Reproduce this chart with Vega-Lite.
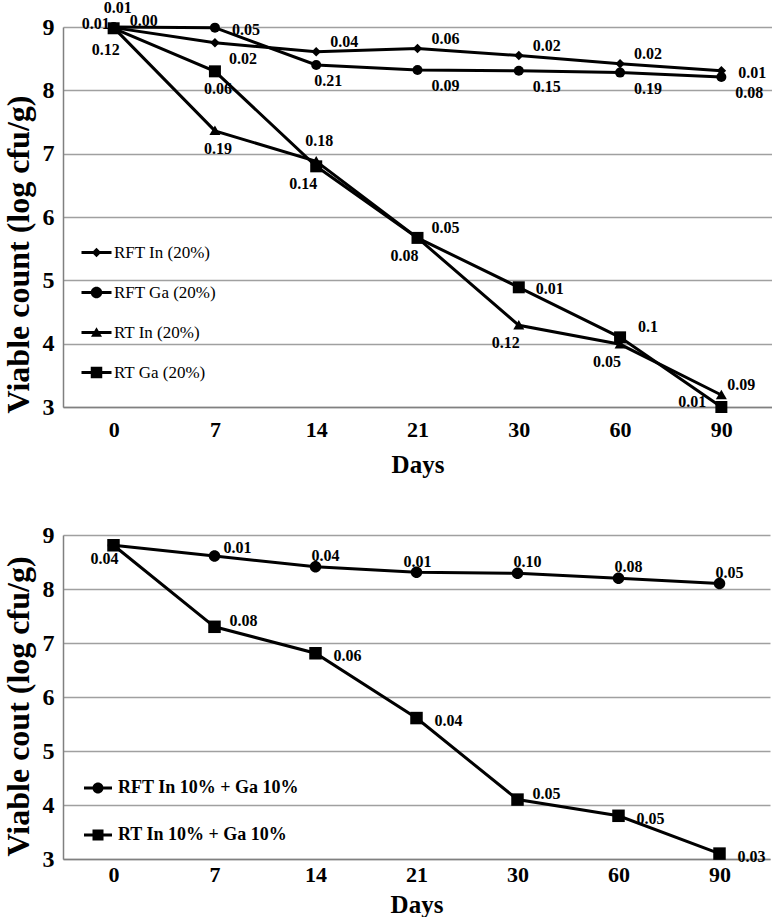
{
  "$schema": "https://vega.github.io/schema/vega-lite/v6.json",
  "padding": {"left": 2, "top": 0, "right": 0, "bottom": 0},
  "background": "white",
  "datasets": {
    "top": [
      {"series": "RFT In (20%)", "day": 0, "v": 8.99, "sd": "0.00"},
      {"series": "RFT In (20%)", "day": 7, "v": 8.75, "sd": "0.02"},
      {"series": "RFT In (20%)", "day": 14, "v": 8.61, "sd": "0.04"},
      {"series": "RFT In (20%)", "day": 21, "v": 8.66, "sd": "0.06"},
      {"series": "RFT In (20%)", "day": 30, "v": 8.55, "sd": "0.02"},
      {"series": "RFT In (20%)", "day": 60, "v": 8.42, "sd": "0.02"},
      {"series": "RFT In (20%)", "day": 90, "v": 8.31, "sd": "0.01"},
      {"series": "RFT Ga (20%)", "day": 0, "v": 9.0, "sd": "0.01"},
      {"series": "RFT Ga (20%)", "day": 7, "v": 8.99, "sd": "0.05"},
      {"series": "RFT Ga (20%)", "day": 14, "v": 8.4, "sd": "0.21"},
      {"series": "RFT Ga (20%)", "day": 21, "v": 8.32, "sd": "0.09"},
      {"series": "RFT Ga (20%)", "day": 30, "v": 8.31, "sd": "0.15"},
      {"series": "RFT Ga (20%)", "day": 60, "v": 8.28, "sd": "0.19"},
      {"series": "RFT Ga (20%)", "day": 90, "v": 8.21, "sd": "0.08"},
      {"series": "RT In (20%)", "day": 0, "v": 8.99, "sd": "0.12"},
      {"series": "RT In (20%)", "day": 7, "v": 7.36, "sd": "0.19"},
      {"series": "RT In (20%)", "day": 14, "v": 6.88, "sd": "0.18"},
      {"series": "RT In (20%)", "day": 21, "v": 5.67, "sd": "0.08"},
      {"series": "RT In (20%)", "day": 30, "v": 4.29, "sd": "0.12"},
      {"series": "RT In (20%)", "day": 60, "v": 3.99, "sd": "0.05"},
      {"series": "RT In (20%)", "day": 90, "v": 3.19, "sd": "0.09"},
      {"series": "RT Ga (20%)", "day": 0, "v": 8.98, "sd": "0.01"},
      {"series": "RT Ga (20%)", "day": 7, "v": 8.3, "sd": "0.06"},
      {"series": "RT Ga (20%)", "day": 14, "v": 6.8, "sd": "0.14"},
      {"series": "RT Ga (20%)", "day": 21, "v": 5.67, "sd": "0.05"},
      {"series": "RT Ga (20%)", "day": 30, "v": 4.89, "sd": "0.01"},
      {"series": "RT Ga (20%)", "day": 60, "v": 4.1, "sd": "0.1"},
      {"series": "RT Ga (20%)", "day": 90, "v": 3.0, "sd": "0.01"}
    ],
    "bottom": [
      {"series": "RFT In 10% + Ga 10%", "day": 0, "v": 8.81, "sd": ""},
      {"series": "RFT In 10% + Ga 10%", "day": 7, "v": 8.61, "sd": "0.01"},
      {"series": "RFT In 10% + Ga 10%", "day": 14, "v": 8.41, "sd": "0.04"},
      {"series": "RFT In 10% + Ga 10%", "day": 21, "v": 8.31, "sd": "0.01"},
      {"series": "RFT In 10% + Ga 10%", "day": 30, "v": 8.29, "sd": "0.10"},
      {"series": "RFT In 10% + Ga 10%", "day": 60, "v": 8.2, "sd": "0.08"},
      {"series": "RFT In 10% + Ga 10%", "day": 90, "v": 8.1, "sd": "0.05"},
      {"series": "RT In 10% + Ga 10%", "day": 0, "v": 8.81, "sd": "0.04"},
      {"series": "RT In 10% + Ga 10%", "day": 7, "v": 7.3, "sd": "0.08"},
      {"series": "RT In 10% + Ga 10%", "day": 14, "v": 6.81, "sd": "0.06"},
      {"series": "RT In 10% + Ga 10%", "day": 21, "v": 5.61, "sd": "0.04"},
      {"series": "RT In 10% + Ga 10%", "day": 30, "v": 4.1, "sd": "0.05"},
      {"series": "RT In 10% + Ga 10%", "day": 60, "v": 3.8, "sd": "0.05"},
      {"series": "RT In 10% + Ga 10%", "day": 90, "v": 3.1, "sd": "0.03"}
    ]
  },
  "spacing": 128,
  "bounds": "flush",
  "resolve": {"scale": {"shape": "independent", "x": "independent", "y": "independent"}, "legend": {"shape": "independent"}},
  "vconcat": [
    {
      "width": 709,
      "height": 380,
      "data": {"name": "top"},
      "resolve": {"scale": {"shape": "independent"}, "legend": {"shape": "independent"}},
      "encoding": {
        "x": {"field": "day", "type": "ordinal", "sort": [0, 7, 14, 21, 30, 60, 90],
              "scale": {"type": "point", "padding": 0.5},
              "axis": {"title": "Days", "labelAngle": 0, "labelPadding": 12, "titleY": 65, "titleBaseline": "alphabetic"}},
        "y": {"field": "v", "type": "quantitative",
              "scale": {"domain": [3, 9], "nice": false, "zero": false},
              "axis": {"title": "Viable count (log cfu/g)", "values": [3, 4, 5, 6, 7, 8, 9], "titleX": -35, "titleY": 227, "titleAngle": -90, "titleBaseline": "alphabetic", "titleAlign": "center"}}
      },
      "layer": [
        {"mark": {"type": "line", "color": "black", "strokeWidth": 3}, "encoding": {"detail": {"field": "series"}}},
        {"mark": {"type": "point", "filled": true, "color": "black", "opacity": 0, "size": 100},
         "encoding": {
           "shape": {"field": "series", "type": "nominal",
                     "scale": {"domain": ["RFT In (20%)", "RFT Ga (20%)", "RT In (20%)", "RT Ga (20%)"],
                               "range": ["M-3,-0.28H3V0.28H-3ZM0,-0.95L0.95,0L0,0.95L-0.95,0Z", "M-3,-0.28H3V0.28H-3ZM-1.15,0A1.15,1.15,0,1,1,1.15,0A1.15,1.15,0,1,1,-1.15,0Z", "M-3,-0.28H3V0.28H-3ZM0,-1.05L1.1,0.85L-1.1,0.85Z", "M-3,-0.28H3V0.28H-3ZM-1.15,-1.15H1.15V1.15H-1.15Z"]},
                     "legend": {"title": null, "orient": "none", "legendX": 25, "legendY": 217, "direction": "vertical",
                                "labelFont": "Liberation Serif", "labelFontSize": 17, "labelFontWeight": "normal", "labelColor": "black",
                                "symbolSize": 100, "rowPadding": 22, "labelOffset": 9, "padding": 0, "labelLimit": 300,
                                "symbolFillColor": "black", "symbolStrokeColor": "black", "symbolStrokeWidth": 0, "symbolOpacity": 1}}
         }},
        {"mark": {"type": "point", "filled": true, "color": "black", "opacity": 1, "size": 100},
         "encoding": {
           "shape": {"field": "series", "type": "nominal",
                     "scale": {"domain": ["RFT In (20%)", "RFT Ga (20%)", "RT In (20%)", "RT Ga (20%)"],
                               "range": ["M0,-0.95L0.95,0L0,0.95L-0.95,0Z", "circle", "M0,-1.05L1.1,0.85L-1.1,0.85Z", "M-1.2,-1.2H1.2V1.2H-1.2Z"]},
                     "legend": null}
         }},
        {"transform": [{"filter": "indexof(['RFT In (20%)|0'], datum.series + '|' + datum.day) >= 0"}], "mark": {"type": "text", "dx": 30, "dy": -7}, "encoding": {"text": {"field": "sd"}}},
        {"transform": [{"filter": "indexof(['RFT Ga (20%)|0'], datum.series + '|' + datum.day) >= 0"}], "mark": {"type": "text", "dx": 4, "dy": -19}, "encoding": {"text": {"field": "sd"}}},
        {"transform": [{"filter": "indexof(['RT Ga (20%)|0'], datum.series + '|' + datum.day) >= 0"}], "mark": {"type": "text", "dx": -18, "dy": -4}, "encoding": {"text": {"field": "sd"}}},
        {"transform": [{"filter": "indexof(['RT In (20%)|0'], datum.series + '|' + datum.day) >= 0"}], "mark": {"type": "text", "dx": -8, "dy": 22}, "encoding": {"text": {"field": "sd"}}},
        {"transform": [{"filter": "indexof(['RFT Ga (20%)|7', 'RT Ga (20%)|30', 'RFT In (20%)|90'], datum.series + '|' + datum.day) >= 0"}], "mark": {"type": "text", "dx": 31, "dy": 2}, "encoding": {"text": {"field": "sd"}}},
        {"transform": [{"filter": "indexof(['RFT In (20%)|7', 'RFT Ga (20%)|21', 'RFT Ga (20%)|30', 'RFT Ga (20%)|60', 'RFT Ga (20%)|90'], datum.series + '|' + datum.day) >= 0"}], "mark": {"type": "text", "dx": 28, "dy": 16}, "encoding": {"text": {"field": "sd"}}},
        {"transform": [{"filter": "indexof(['RT Ga (20%)|7', 'RT In (20%)|7'], datum.series + '|' + datum.day) >= 0"}], "mark": {"type": "text", "dx": 3, "dy": 18}, "encoding": {"text": {"field": "sd"}}},
        {"transform": [{"filter": "indexof(['RFT In (20%)|14', 'RFT In (20%)|21', 'RFT In (20%)|30', 'RFT In (20%)|60', 'RT Ga (20%)|21', 'RT Ga (20%)|60'], datum.series + '|' + datum.day) >= 0"}], "mark": {"type": "text", "dx": 28, "dy": -10}, "encoding": {"text": {"field": "sd"}}},
        {"transform": [{"filter": "indexof(['RT In (20%)|90'], datum.series + '|' + datum.day) >= 0"}], "mark": {"type": "text", "dx": 20, "dy": -10}, "encoding": {"text": {"field": "sd"}}},
        {"transform": [{"filter": "indexof(['RT In (20%)|14'], datum.series + '|' + datum.day) >= 0"}], "mark": {"type": "text", "dx": 3, "dy": -20}, "encoding": {"text": {"field": "sd"}}},
        {"transform": [{"filter": "indexof(['RT Ga (20%)|14', 'RT In (20%)|21', 'RT In (20%)|60', 'RT In (20%)|30'], datum.series + '|' + datum.day) >= 0"}], "mark": {"type": "text", "dx": -13, "dy": 18}, "encoding": {"text": {"field": "sd"}}},
        {"transform": [{"filter": "indexof(['RFT Ga (20%)|14'], datum.series + '|' + datum.day) >= 0"}], "mark": {"type": "text", "dx": 12, "dy": 16}, "encoding": {"text": {"field": "sd"}}},
        {"transform": [{"filter": "indexof(['RT Ga (20%)|90'], datum.series + '|' + datum.day) >= 0"}], "mark": {"type": "text", "dx": -29, "dy": -5}, "encoding": {"text": {"field": "sd"}}}
      ]
    },
    {
      "width": 707,
      "height": 324,
      "data": {"name": "bottom"},
      "resolve": {"scale": {"shape": "independent"}, "legend": {"shape": "independent"}},
      "encoding": {
        "x": {"field": "day", "type": "ordinal", "sort": [0, 7, 14, 21, 30, 60, 90],
              "scale": {"type": "point", "padding": 0.5},
              "axis": {"title": "Days", "labelAngle": 0, "labelPadding": 5, "titleY": 53, "titleBaseline": "alphabetic"}},
        "y": {"field": "v", "type": "quantitative",
              "scale": {"domain": [3, 9], "nice": false, "zero": false},
              "axis": {"title": "Viable cout (log cfu/g)", "values": [3, 4, 5, 6, 7, 8, 9], "titleX": -35, "titleY": 171, "titleAngle": -90, "titleBaseline": "alphabetic", "titleAlign": "center"}}
      },
      "layer": [
        {"mark": {"type": "line", "color": "black", "strokeWidth": 3}, "encoding": {"detail": {"field": "series"}}},
        {"mark": {"type": "point", "filled": true, "color": "black", "opacity": 0, "size": 100},
         "encoding": {
           "shape": {"field": "series", "type": "nominal",
                     "scale": {"domain": ["RFT In 10% + Ga 10%", "RT In 10% + Ga 10%"],
                               "range": ["M-2.8,-0.28H2.8V0.28H-2.8ZM-1.1,0A1.1,1.1,0,1,1,1.1,0A1.1,1.1,0,1,1,-1.1,0Z", "M-2.8,-0.28H2.8V0.28H-2.8ZM-1.1,-1.1H1.1V1.1H-1.1Z"]},
                     "legend": {"title": null, "orient": "none", "legendX": 26, "legendY": 244, "direction": "vertical",
                                "labelFont": "Liberation Serif", "labelFontSize": 18, "labelFontWeight": "bold", "labelColor": "black",
                                "symbolSize": 100, "rowPadding": 29, "labelOffset": 11, "padding": 0, "labelLimit": 300,
                                "symbolFillColor": "black", "symbolStrokeColor": "black", "symbolStrokeWidth": 0, "symbolOpacity": 1}}
         }},
        {"mark": {"type": "point", "filled": true, "color": "black", "opacity": 1, "size": 100},
         "encoding": {
           "shape": {"field": "series", "type": "nominal",
                     "scale": {"domain": ["RFT In 10% + Ga 10%", "RT In 10% + Ga 10%"],
                               "range": ["M-1.15,0A1.15,1.15,0,1,1,1.15,0A1.15,1.15,0,1,1,-1.15,0Z", "M-1.25,-1.25H1.25V1.25H-1.25Z"]},
                     "legend": null}
         }},
        {"transform": [{"filter": "indexof(['RT In 10% + Ga 10%|0'], datum.series + '|' + datum.day) >= 0"}], "mark": {"type": "text", "dx": -9, "dy": 14}, "encoding": {"text": {"field": "sd"}}},
        {"transform": [{"filter": "indexof(['RFT In 10% + Ga 10%|7'], datum.series + '|' + datum.day) >= 0"}], "mark": {"type": "text", "dx": 23, "dy": -8}, "encoding": {"text": {"field": "sd"}}},
        {"transform": [{"filter": "indexof(['RFT In 10% + Ga 10%|14', 'RFT In 10% + Ga 10%|30', 'RFT In 10% + Ga 10%|60', 'RFT In 10% + Ga 10%|90'], datum.series + '|' + datum.day) >= 0"}], "mark": {"type": "text", "dx": 10, "dy": -11}, "encoding": {"text": {"field": "sd"}}},
        {"transform": [{"filter": "indexof(['RFT In 10% + Ga 10%|21'], datum.series + '|' + datum.day) >= 0"}], "mark": {"type": "text", "dx": 1, "dy": -10}, "encoding": {"text": {"field": "sd"}}},
        {"transform": [{"filter": "indexof(['RT In 10% + Ga 10%|7', 'RT In 10% + Ga 10%|30'], datum.series + '|' + datum.day) >= 0"}], "mark": {"type": "text", "dx": 29, "dy": -6}, "encoding": {"text": {"field": "sd"}}},
        {"transform": [{"filter": "indexof(['RT In 10% + Ga 10%|14', 'RT In 10% + Ga 10%|21', 'RT In 10% + Ga 10%|60', 'RT In 10% + Ga 10%|90'], datum.series + '|' + datum.day) >= 0"}], "mark": {"type": "text", "dx": 32, "dy": 3}, "encoding": {"text": {"field": "sd"}}}
      ]
    }
  ],
  "config": {
    "font": "Liberation Serif",
    "view": {"stroke": null},
    "text": {"font": "Liberation Serif", "fontSize": 16, "fontWeight": "bold", "color": "black", "align": "center", "baseline": "middle"},
    "axis": {"labelFont": "Liberation Serif", "titleFont": "Liberation Serif", "labelColor": "black", "titleColor": "black",
             "labelFontWeight": "bold", "titleFontWeight": "bold", "ticks": false, "domainColor": "#808080", "domainWidth": 1.5,
             "gridColor": "#a0a0a0", "gridWidth": 1.3},
    "axisX": {"grid": false, "labelFontSize": 22, "titleFontSize": 25},
    "axisY": {"grid": true, "labelFontSize": 24, "titleFontSize": 32, "labelPadding": 9}
  }
}
